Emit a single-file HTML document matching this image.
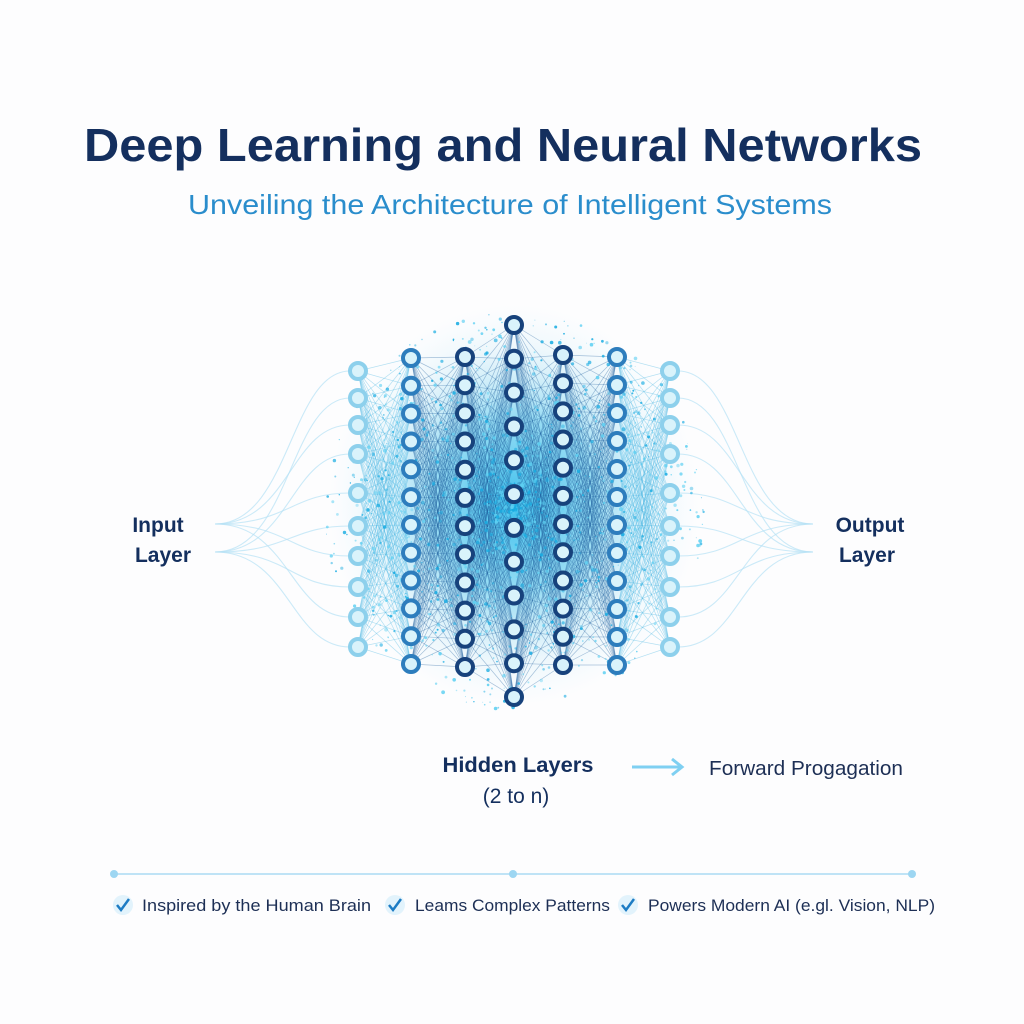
<!DOCTYPE html>
<html><head><meta charset="utf-8"><style>
html,body{margin:0;padding:0;background:#fff;}
svg{display:block;font-family:"Liberation Sans",sans-serif;}
</style></head><body>
<svg id="s" width="1024" height="1024" viewBox="0 0 1024 1024" xmlns="http://www.w3.org/2000/svg">
<defs>
<radialGradient id="glow" cx="50%" cy="50%" r="50%">
<stop offset="0" stop-color="#25b8ea" stop-opacity="0.9"/>
<stop offset="0.45" stop-color="#48c3ec" stop-opacity="0.55"/>
<stop offset="0.8" stop-color="#9fdcf3" stop-opacity="0.15"/>
<stop offset="1" stop-color="#bdeaf8" stop-opacity="0"/>
</radialGradient>
</defs>
<rect width="1024" height="1024" fill="#fdfdfe"/>
<text x="503" y="161" text-anchor="middle" font-size="46" font-weight="bold" fill="#142f5e" textLength="838" lengthAdjust="spacingAndGlyphs">Deep Learning and Neural Networks</text>
<text x="510" y="214" text-anchor="middle" font-size="28" fill="#2a8dcc" textLength="644" lengthAdjust="spacingAndGlyphs">Unveiling the Architecture of Intelligent Systems</text>
<ellipse cx="514" cy="505" rx="185" ry="200" fill="url(#glow)"/>
<g id="net"></g>
<g font-weight="bold" fill="#142f5e" font-size="21">
<text x="158" y="532" text-anchor="middle">Input</text>
<text x="163" y="562" text-anchor="middle">Layer</text>
<text x="870" y="532" text-anchor="middle">Output</text>
<text x="867" y="562" text-anchor="middle">Layer</text>
<text x="518" y="772" text-anchor="middle" font-size="21" textLength="151" lengthAdjust="spacingAndGlyphs">Hidden Layers</text>
</g>
<text x="516" y="803" text-anchor="middle" font-size="21" fill="#142f5e">(2 to n)</text>
<line x1="632" y1="767" x2="680" y2="767" stroke="#7fd0f2" stroke-width="3"/>
<polyline points="672,759 682,767 672,775" fill="none" stroke="#7fd0f2" stroke-width="3"/>
<text x="709" y="775" font-size="20" fill="#1d2f55" textLength="194" lengthAdjust="spacingAndGlyphs">Forward Progagation</text>
<line x1="114" y1="874" x2="912" y2="874" stroke="#bfe3f6" stroke-width="2"/>
<circle cx="114" cy="874" r="4" fill="#9dd6f2"/><circle cx="513" cy="874" r="4" fill="#9dd6f2"/><circle cx="912" cy="874" r="4" fill="#9dd6f2"/>
<g font-size="17" fill="#1d2f55">
<circle cx="123" cy="905" r="10" fill="#e2f3fc"/><polyline points="117,905 121,910 129,899" fill="none" stroke="#1d7cc4" stroke-width="2.5"/>
<text x="142" y="911" textLength="229" lengthAdjust="spacingAndGlyphs">Inspired by the Human Brain</text>
<circle cx="395" cy="905" r="10" fill="#e2f3fc"/><polyline points="389,905 393,910 401,899" fill="none" stroke="#1d7cc4" stroke-width="2.5"/>
<text x="415" y="911" textLength="195" lengthAdjust="spacingAndGlyphs">Leams Complex Patterns</text>
<circle cx="628" cy="905" r="10" fill="#e2f3fc"/><polyline points="622,905 626,910 634,899" fill="none" stroke="#1d7cc4" stroke-width="2.5"/>
<text x="648" y="911" textLength="287" lengthAdjust="spacingAndGlyphs">Powers Modern AI (e.gl. Vision, NLP)</text>
</g>
</svg>
<script>
(function(){
var NS="http://www.w3.org/2000/svg",g=document.getElementById("net");
function el(t,a){var e=document.createElementNS(NS,t);for(var k in a)e.setAttribute(k,a[k]);g.appendChild(e);return e;}
function range(a,b,n){var r=[];for(var i=0;i<n;i++)r.push(a+(b-a)*i/(n-1));return r;}
var cols=[
{x:358,ys:[371,398,425,454,493,526,556,587,617,647],c:"#8dd0ec"},
{x:411,ys:range(358,664,12),c:"#2d7dbd"},
{x:465,ys:range(357,667,12),c:"#17427c"},
{x:514,ys:range(325,697,12),c:"#17427c"},
{x:563,ys:range(355,665,12),c:"#17427c"},
{x:617,ys:range(357,665,12),c:"#2d7dbd"},
{x:670,ys:[371,398,425,454,493,526,556,587,617,647],c:"#8dd0ec"}];
var seed=7;function rnd(){seed=(seed*16807)%2147483647;return seed/2147483647;}
var inY=[524,552];
for(var i=0;i<10;i++){var y=cols[0].ys[i];
el("path",{d:"M215 "+inY[i%2]+" C290 "+inY[i%2]+" 290 "+y+" 350 "+y,fill:"none",stroke:"#b5e1f5","stroke-width":1.1,opacity:0.7});
el("path",{d:"M813 "+inY[i%2]+" C740 "+inY[i%2]+" 740 "+y+" 678 "+y,fill:"none",stroke:"#b5e1f5","stroke-width":1.1,opacity:0.7});}
for(var c=0;c<cols.length-1;c++){var A=cols[c],B=cols[c+1];
var col=(c==0||c==5)?"#4ab6e2":"#1f5f9e";var op=(c==0||c==5)?0.4:0.38;
A.ys.forEach(function(y1){B.ys.forEach(function(y2){el("line",{x1:A.x,y1:y1,x2:B.x,y2:y2,stroke:col,"stroke-width":0.7,opacity:op});});});}
for(var i=0;i<1500;i++){var a=rnd()*6.283,r=Math.pow(rnd(),0.9)*190;
var x=514+Math.cos(a)*r,y=510+Math.sin(a)*r*1.05;
el("circle",{cx:x.toFixed(1),cy:y.toFixed(1),r:(rnd()*1.5+0.4).toFixed(1),fill:rnd()<0.5?"#19ace2":"#5fd0f2",opacity:(0.4+rnd()*0.5).toFixed(2)});}
cols.forEach(function(C){C.ys.forEach(function(y){el("circle",{cx:C.x,cy:y.toFixed(1),r:8,fill:"#d9f3fb",stroke:C.c,"stroke-width":4});});});
})();
</script>
</body></html>
